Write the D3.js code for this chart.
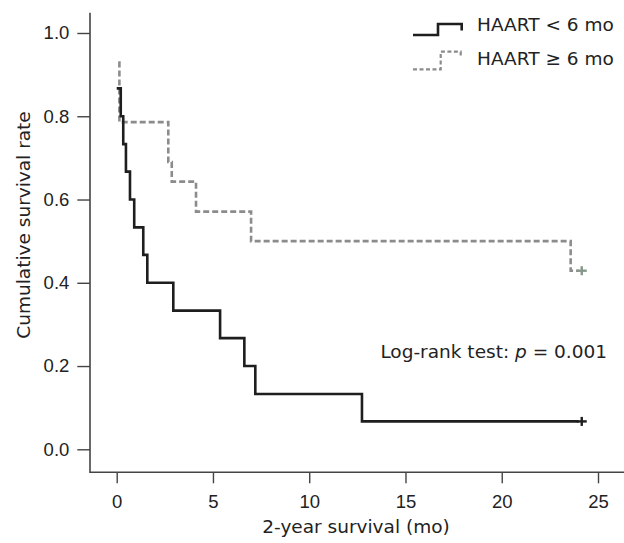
<!DOCTYPE html>
<html>
<head>
<meta charset="utf-8">
<script src="https://cdn.jsdelivr.net/npm/d3@7"></script>
<style>
  body { margin: 0; background: #fff; }
  svg { display: block; font-family: "DejaVu Sans", sans-serif; }
  .tick text { font-size: 18.5px; fill: #222; }
</style>
</head>
<body>
<svg width="624" height="543"></svg>
<script>
// Kaplan-Meier steps (time in months, survival from that time on)
var timesEarly = [0, 0.21, 0.34, 0.48, 0.69, 0.91, 1.38, 1.59, 2.94, 5.37, 6.63, 7.2, 12.74, 24];
var survEarly  = [0.867, 0.8, 0.733, 0.667, 0.6, 0.533, 0.467, 0.4, 0.333, 0.267, 0.2, 0.133, 0.067, 0.067];
var timesLate  = [0.08, 0.14, 2.68, 2.86, 4.12, 6.98, 23.58, 24];
var survLate   = [0.929, 0.786, 0.69, 0.643, 0.571, 0.5, 0.429, 0.429];
var censorEarly = [24];
var censorLate  = [24];
var xTicks = [0, 5, 10, 15, 20, 25];
var yTicks = [0, 0.2, 0.4, 0.6, 0.8, 1.0];
var legendLabels = ["HAART < 6 mo", "HAART \u2265 6 mo"];

var svg = d3.select("svg");

var x = d3.scaleLinear().domain([0, 25]).range([116.7, 598]);
var y = d3.scaleLinear().domain([0, 1]).range([449.3, 33]);

var axisColor = "#444";

// x axis
var gx = svg.append("g")
    .attr("transform", "translate(0,472.3)")
    .call(d3.axisBottom(x).tickValues(xTicks).tickFormat(d3.format("d"))
        .tickSize(11).tickPadding(12));
gx.select(".domain").remove();
gx.selectAll(".tick line").attr("stroke", axisColor).attr("stroke-width", 1.4);
gx.append("line")
    .attr("x1", 90).attr("x2", 624)
    .attr("stroke", axisColor).attr("stroke-width", 1.6);

// y axis
var gy = svg.append("g")
    .attr("transform", "translate(90,0)")
    .call(d3.axisLeft(y).tickValues(yTicks).tickFormat(d3.format(".1f"))
        .tickSize(12.7).tickPadding(8));
gy.select(".domain").remove();
gy.selectAll(".tick line").attr("stroke", axisColor).attr("stroke-width", 1.4);
gy.append("line")
    .attr("y1", 12.7).attr("y2", 473)
    .attr("stroke", axisColor).attr("stroke-width", 1.6);

// axis titles
svg.append("text")
    .attr("x", 356).attr("y", 533)
    .attr("text-anchor", "middle")
    .style("font-size", "18.5px").style("fill", "#222")
    .text("2-year survival (mo)");

svg.append("text")
    .attr("transform", "translate(30,225) rotate(-90)")
    .attr("text-anchor", "middle")
    .style("font-size", "18.5px").style("fill", "#222")
    .text("Cumulative survival rate");

// curves
var line = d3.line()
    .x(function (d) { return x(d[0]); })
    .y(function (d) { return y(d[1]); })
    .curve(d3.curveStepAfter);

var early = d3.zip(timesEarly, survEarly);
var late = d3.zip(timesLate, survLate);

svg.append("path")
    .datum(late)
    .attr("d", line)
    .attr("fill", "none")
    .attr("stroke", "#8c8c8c")
    .attr("stroke-width", 2.6)
    .attr("stroke-dasharray", "6,3");

svg.append("path")
    .datum(early)
    .attr("d", line)
    .attr("fill", "none")
    .attr("stroke", "#1e1e1e")
    .attr("stroke-width", 2.6);

// censor marks
function plus(g, t, s, color) {
    var cx = x(t) + 3, cy = y(s);
    g.append("line").attr("x1", cx - 5).attr("x2", cx + 5).attr("y1", cy).attr("y2", cy)
        .attr("stroke", color).attr("stroke-width", 2.4);
    g.append("line").attr("x1", cx).attr("x2", cx).attr("y1", cy - 4.5).attr("y2", cy + 4.5)
        .attr("stroke", color).attr("stroke-width", 2.4);
}
censorEarly.forEach(function (t) { plus(svg, t, survEarly[survEarly.length - 1], "#1e1e1e"); });
censorLate.forEach(function (t) { plus(svg, t, survLate[survLate.length - 1], "#86988a"); });

// legend
svg.append("path")
    .attr("d", "M413,35H438V24H461.7V30.5")
    .attr("fill", "none").attr("stroke", "#1e1e1e").attr("stroke-width", 2.6);
svg.append("path")
    .attr("d", "M413,69.3H440.7V51.7H460.7V58")
    .attr("fill", "none").attr("stroke", "#8c8c8c").attr("stroke-width", 2.2)
    .attr("stroke-dasharray", "4,2.5");

svg.selectAll(".legtext")
    .data(legendLabels)
    .enter().append("text")
    .attr("class", "legtext")
    .attr("x", 477)
    .attr("y", function (d, i) { return 30.7 + i * 34.3; })
    .style("font-size", "18.5px").style("fill", "#222")
    .text(function (d) { return d; });

// log-rank annotation
var ann = svg.append("text")
    .attr("x", 607).attr("y", 357.5)
    .attr("text-anchor", "end")
    .style("font-size", "18.5px").style("fill", "#222");
ann.append("tspan").text("Log-rank test: ");
ann.append("tspan").style("font-style", "italic").text("p");
ann.append("tspan").text(" = 0.001");
</script>
</body>
</html>
